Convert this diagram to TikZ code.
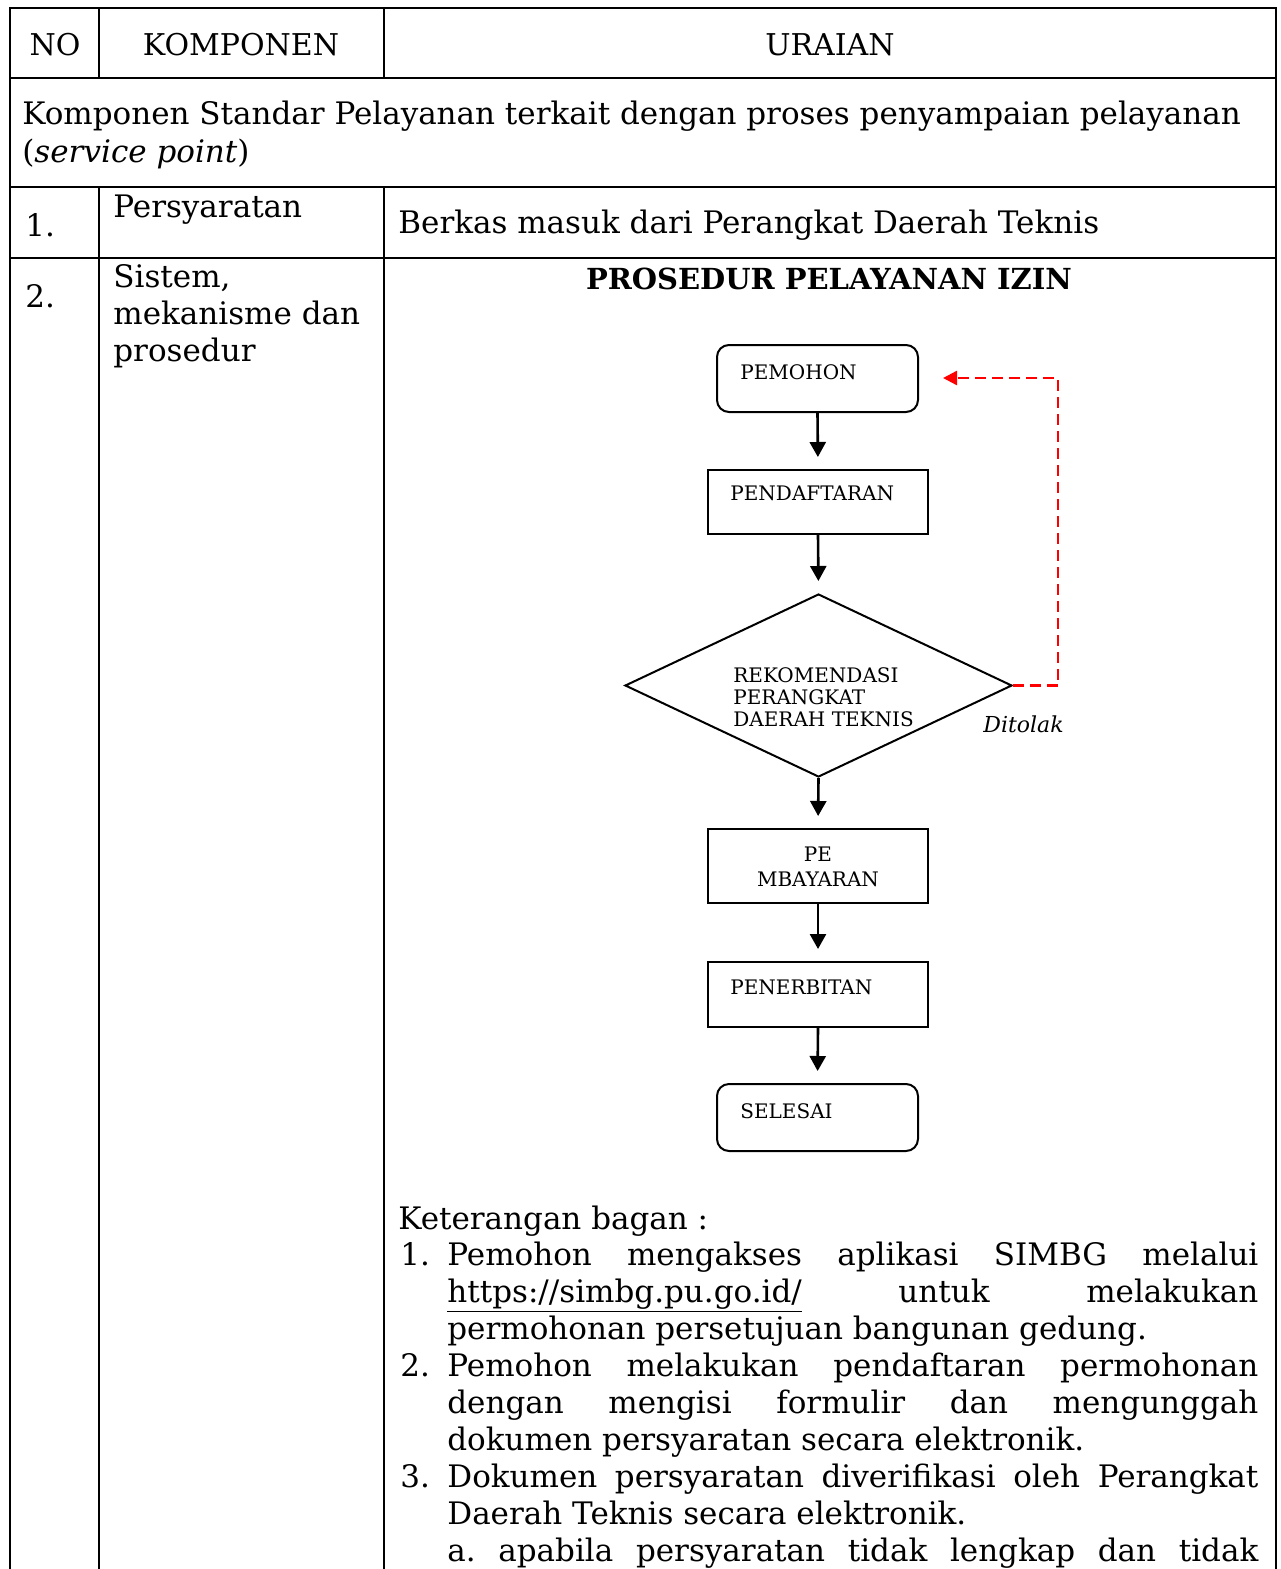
\documentclass[tikz,border=0pt]{standalone}
\usepackage{fontspec}
\setmainfont{DejaVu Serif}
\usetikzlibrary{shapes.geometric,arrows.meta}
\begin{document}
\begin{tikzpicture}[x=0.5pt,y=-0.5pt,
  grid/.style={line width=1.1pt},
  body/.style={inner sep=0pt,anchor=base west,font=\fontsize{15.5}{18.5}\selectfont},
  head/.style={inner sep=0pt,anchor=base,font=\fontsize{15}{18}\selectfont},
  title/.style={inner sep=0pt,anchor=base,font=\bfseries\fontsize{14.5}{17}\selectfont},
  flowtxt/.style={inner sep=0pt,anchor=base west,font=\fontsize{10}{11}\selectfont},
  procbox/.style={draw,line width=1pt,minimum width=110pt,inner sep=0pt},
  termbox/.style={draw,line width=1pt,rounded corners=6pt,minimum width=100.5pt,minimum height=33.5pt,inner sep=0pt},
  decision/.style={draw,line width=1pt,diamond,minimum width=193.5pt,minimum height=91.5pt,inner sep=0pt},
  flow/.style={line width=1.3pt,-{Triangle[width=8pt,length=7.5pt]},shorten >=6pt},
  reject/.style={red,line width=1.2pt,dash pattern=on 5.5pt off 3pt,-{Triangle[width=7pt,length=7pt]}}
]
\fill[white] (0,0) rectangle (1280,1569);
\useasboundingbox (0,0) rectangle (1280,1569);

% table grid
\draw[grid] (10,1575) -- (10,8) -- (1276,8) -- (1276,1575);
\draw[grid] (10,78) -- (1276,78);
\draw[grid] (10,187) -- (1276,187);
\draw[grid] (10,258) -- (1276,258);
\draw[grid] (99,8) -- (99,78);
\draw[grid] (384,8) -- (384,78);
\draw[grid] (99,187) -- (99,1575);
\draw[grid] (384,187) -- (384,1575);

% header
\node[head] (hno) at (55,55) {NO};
\node[head] (hkomp) at (241,55) {KOMPONEN};
\node[head] (hurai) at (830,55) {URAIAN};

% section row
\node[body] (sec1) at (22,124) {Komponen Standar Pelayanan terkait dengan proses penyampaian pelayanan};
\node[body] (sec2) at (22,162) {(\textit{service point})};

% row 1
\node[body] (no1) at (25,236) {1.};
\node[body] (komp1) at (113,217) {Persyaratan};
\node[body] (urai1) at (398,233) {Berkas masuk dari Perangkat Daerah Teknis};

% row 2
\node[body] (no2) at (25,307) {2.};
\node[body] (komp2a) at (113,287) {Sistem,};
\node[body] (komp2b) at (113,324) {mekanisme dan};
\node[body] (komp2c) at (113,361) {prosedur};
\node[title] (ttl) at (829,289) {PROSEDUR PELAYANAN IZIN};

% flowchart
\node[termbox] (pemohon) at (817.5,378.5) {};
\node[procbox,minimum height=32pt] (daftar) at (818,502) {};
\node[decision] (rekom) at (818.5,685.5) {};
\node[procbox,minimum height=37pt] (bayar) at (818,866) {};
\node[procbox,minimum height=32.5pt] (terbit) at (818,994.5) {};
\node[termbox] (selesai) at (817.5,1117.5) {};

\node[flowtxt] (tpemohon) at (740,379) {PEMOHON};
\node[flowtxt] (tdaftar) at (730,500) {PENDAFTARAN};
\node[flowtxt,anchor=west,align=left] (trekom) at (733,697) {REKOMENDASI\\PERANGKAT\\DAERAH TEKNIS};
\node[flowtxt,anchor=center,align=center] (tbayar) at (818,867) {PE\\[1.5pt]MBAYARAN};
\node[flowtxt] (tterbit) at (730,994) {PENERBITAN};
\node[flowtxt] (tselesai) at (740,1118) {SELESAI};
\node[flowtxt,font=\itshape\fontsize{11}{12}\selectfont] (tolak) at (983,732) {Ditolak};

\draw[flow] (pemohon.south) -- (daftar.north);
\draw[flow] (daftar.south) -- (rekom.north);
\draw[flow] (rekom.south) -- (bayar.north);
\draw[flow] (bayar.south) -- (terbit.north);
\draw[flow] (terbit.south) -- (selesai.north);

\coordinate (backturn) at (1058,378);
\coordinate (backtip) at (943,378);
\draw[reject] (rekom.east) -| (backturn) -- (backtip);

% explanation
\node[body] (ket) at (398,1229) {Keterangan bagan :};
\node[body] (k1) at (400,1265) {1.};
\node[body] (k1a) at (447,1265) {\makebox[405.5pt][s]{Pemohon mengakses aplikasi SIMBG melalui}};
\node[body] (k1b) at (447,1302) {\makebox[405.5pt][s]{\underline{https://simbg.pu.go.id/} untuk melakukan}};
\node[body] (k1c) at (447,1339) {permohonan persetujuan bangunan gedung.};
\node[body] (k2) at (400,1376) {2.};
\node[body] (k2a) at (447,1376) {\makebox[405.5pt][s]{Pemohon melakukan pendaftaran permohonan}};
\node[body] (k2b) at (447,1413) {\makebox[405.5pt][s]{dengan mengisi formulir dan mengunggah}};
\node[body] (k2c) at (447,1450) {dokumen persyaratan secara elektronik.};
\node[body] (k3) at (400,1487) {3.};
\node[body] (k3a) at (447,1487) {\makebox[405.5pt][s]{Dokumen persyaratan diverifikasi oleh Perangkat}};
\node[body] (k3b) at (447,1524) {Daerah Teknis secara elektronik.};
\node[body] (k3c) at (447,1561) {\makebox[405.5pt][s]{a.\ apabila persyaratan tidak lengkap dan tidak}};
\end{tikzpicture}
\end{document}
